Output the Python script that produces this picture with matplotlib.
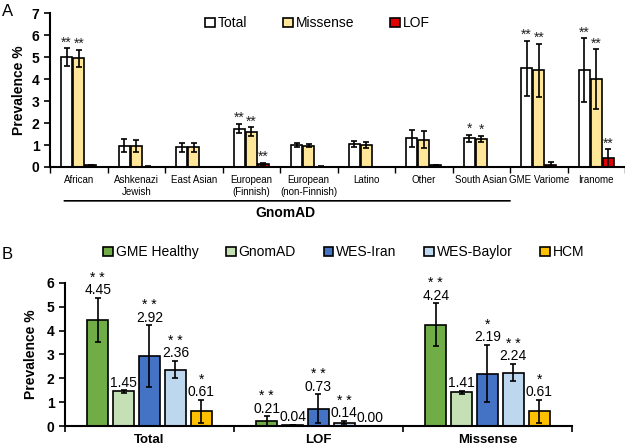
import matplotlib
matplotlib.use('Agg')
import matplotlib.pyplot as plt
import numpy as np

plt.rcParams['font.family'] = ['Arial', 'Liberation Sans', 'DejaVu Sans']

# panel A data
popLabels = ['African', 'Ashkenazi\nJewish', 'East Asian', 'European\n(Finnish)', 'European\n(non-Finnish)',
             'Latino', 'Other', 'South Asian', 'GME Variome', 'Iranome']
totalA = [5.0, 0.97, 0.9, 1.75, 1.0, 1.05, 1.3, 1.3, 4.5, 4.4]
totalErrA = [0.4, 0.3, 0.2, 0.22, 0.07, 0.15, 0.4, 0.15, 1.25, 1.45]
missA = [4.95, 0.97, 0.9, 1.6, 0.97, 1.0, 1.25, 1.28, 4.4, 4.0]
missErrA = [0.38, 0.28, 0.2, 0.2, 0.07, 0.15, 0.4, 0.15, 1.2, 1.35]
lofA = [0.08, 0.02, 0.01, 0.15, 0.02, 0.01, 0.07, 0.01, 0.1, 0.4]
lofErrA = [0.03, 0.01, 0.005, 0.05, 0.01, 0.005, 0.04, 0.005, 0.12, 0.4]
starsTotalA = ['**', '', '', '**', '', '', '', '*', '**', '**']
starsMissA = ['**', '', '', '**', '', '', '', '*', '**', '**']
starsLofA = ['', '', '', '**', '', '', '', '', '', '**']

# panel B data
groupsB = ['Total', 'LOF', 'Missense']
seriesB = ['GME Healthy', 'GnomAD', 'WES-Iran', 'WES-Baylor', 'HCM']
colorsB = ['#70AD47', '#C5E0B4', '#4472C4', '#BDD7EE', '#FFC000']
valsB = [[4.45, 0.21, 4.24],
         [1.45, 0.04, 1.41],
         [2.92, 0.73, 2.19],
         [2.36, 0.14, 2.24],
         [0.61, 0.00, 0.61]]
errB = [[0.92, 0.2, 0.9],
        [0.05, 0.01, 0.05],
        [1.3, 0.6, 1.2],
        [0.36, 0.07, 0.37],
        [0.5, 0.0, 0.5]]
starsB = [['**', '**', '**'],
          ['', '', ''],
          ['**', '**', '*'],
          ['**', '**', '**'],
          ['*', '', '*']]

def starTxt(s):
    # spaced out asterisks like the original
    return ' '.join(list(s))

fig = plt.figure(figsize=(6.25, 4.46), dpi=100)

# ---------- panel A
axA = fig.add_axes([0.08, 0.6256, 0.92, 0.345])
x = np.arange(len(popLabels))
w = 0.19
off = 0.21
ekw = dict(ecolor='black', elinewidth=1.2, capsize=2, capthick=1.2)
axA.bar(x - off, totalA, w, yerr=totalErrA, color='white', edgecolor='black', lw=1.2, error_kw=ekw, label='Total')
axA.bar(x, missA, w, yerr=missErrA, color='#FFE699', edgecolor='black', lw=1.2, error_kw=ekw, label='Missense')
axA.bar(x + off, lofA, w, yerr=lofErrA, color='#E00000', edgecolor='black', lw=1.2, error_kw=ekw, label='LOF')

for i in range(len(x)):
    for xo, v, e, s in [(-off, totalA[i], totalErrA[i], starsTotalA[i]),
                        (0, missA[i], missErrA[i], starsMissA[i]),
                        (off, lofA[i], lofErrA[i], starsLofA[i])]:
        if s:
            axA.text(x[i] + xo, v + e - 0.05, s, ha='center', va='bottom', fontsize=10, color='#222222')

axA.set_xlim(-0.5, 9.5)
axA.set_ylim(0, 7)
axA.set_yticks(range(8))
axA.set_yticklabels([str(t) for t in range(8)], fontweight='bold', fontsize=10)
axA.set_xticks(x)
axA.set_xticklabels(popLabels, fontsize=7)
axA.tick_params(axis='x', length=0, pad=6)
axA.set_xticks(np.arange(-0.5, 10, 1), minor=True)
axA.tick_params(axis='x', which='minor', length=4, width=1, direction='out')
axA.tick_params(axis='y', length=4, width=1.2)
axA.spines['top'].set_visible(False)
axA.spines['right'].set_visible(False)
axA.spines['left'].set_linewidth(1.5)
axA.spines['bottom'].set_linewidth(1.5)
axA.set_ylabel('Prevalence %', fontweight='bold', fontsize=10, labelpad=4)
axA.legend(loc='upper center', bbox_to_anchor=(0.465, 1.06), ncol=3, frameon=False, fontsize=10,
           handlelength=0.7, handleheight=0.7, handletextpad=0.2, columnspacing=2.6)

# GnomAD bracket
axA.annotate('', xy=(-0.3, -0.22), xytext=(7.55, -0.22), xycoords=('data', 'axes fraction'),
             textcoords=('data', 'axes fraction'), arrowprops=dict(arrowstyle='-', lw=1.2, color='black'),
             annotation_clip=False)
axA.text(3.6, -0.3, 'GnomAD', transform=axA.get_xaxis_transform(), ha='center', va='center',
         fontweight='bold', fontsize=10)

fig.text(0.003, 0.975, 'A', fontsize=12, va='center')

# ---------- panel B
axB = fig.add_axes([0.104, 0.0448, 0.811, 0.321])
xb = np.arange(len(groupsB))
bw = 0.125
sp = 0.153
for k, name in enumerate(seriesB):
    pos = xb + (k - 2) * sp
    axB.bar(pos, valsB[k], bw, yerr=errB[k], color=colorsB[k], edgecolor='black', lw=1.2,
            error_kw=ekw, label=name)
    for j in range(len(groupsB)):
        top = valsB[k][j] + errB[k][j]
        lbl = '%.2f' % valsB[k][j]
        if starsB[k][j]:
            lbl = starTxt(starsB[k][j]) + '\n' + lbl
        axB.text(pos[j], top + 0.03, lbl, ha='center', va='bottom', fontsize=10, linespacing=0.85)

axB.set_xlim(-0.5, 2.5)
axB.set_ylim(0, 6)
axB.set_yticks(range(7))
axB.set_yticklabels([str(t) for t in range(7)], fontweight='bold', fontsize=10)
axB.set_xticks(xb)
axB.set_xticklabels(groupsB, fontweight='bold', fontsize=9.5)
axB.tick_params(axis='x', length=0, pad=6)
axB.set_xticks(np.arange(-0.5, 3, 1), minor=True)
axB.tick_params(axis='x', which='minor', length=4, width=1.2, direction='out')
axB.tick_params(axis='y', length=4, width=1.2)
axB.spines['top'].set_visible(False)
axB.spines['right'].set_visible(False)
axB.spines['left'].set_linewidth(1.5)
axB.spines['bottom'].set_linewidth(1.5)
axB.set_ylabel('Prevalence %', fontweight='bold', fontsize=10, labelpad=6)
axB.legend(loc='upper center', bbox_to_anchor=(0.55, 1.35), ncol=5, frameon=False, fontsize=10,
           handlelength=0.7, handleheight=0.7, handletextpad=0.2, columnspacing=2.0)

fig.text(0.003, 0.43, 'B', fontsize=12, va='center')

fig.savefig('out.png', dpi=100)
